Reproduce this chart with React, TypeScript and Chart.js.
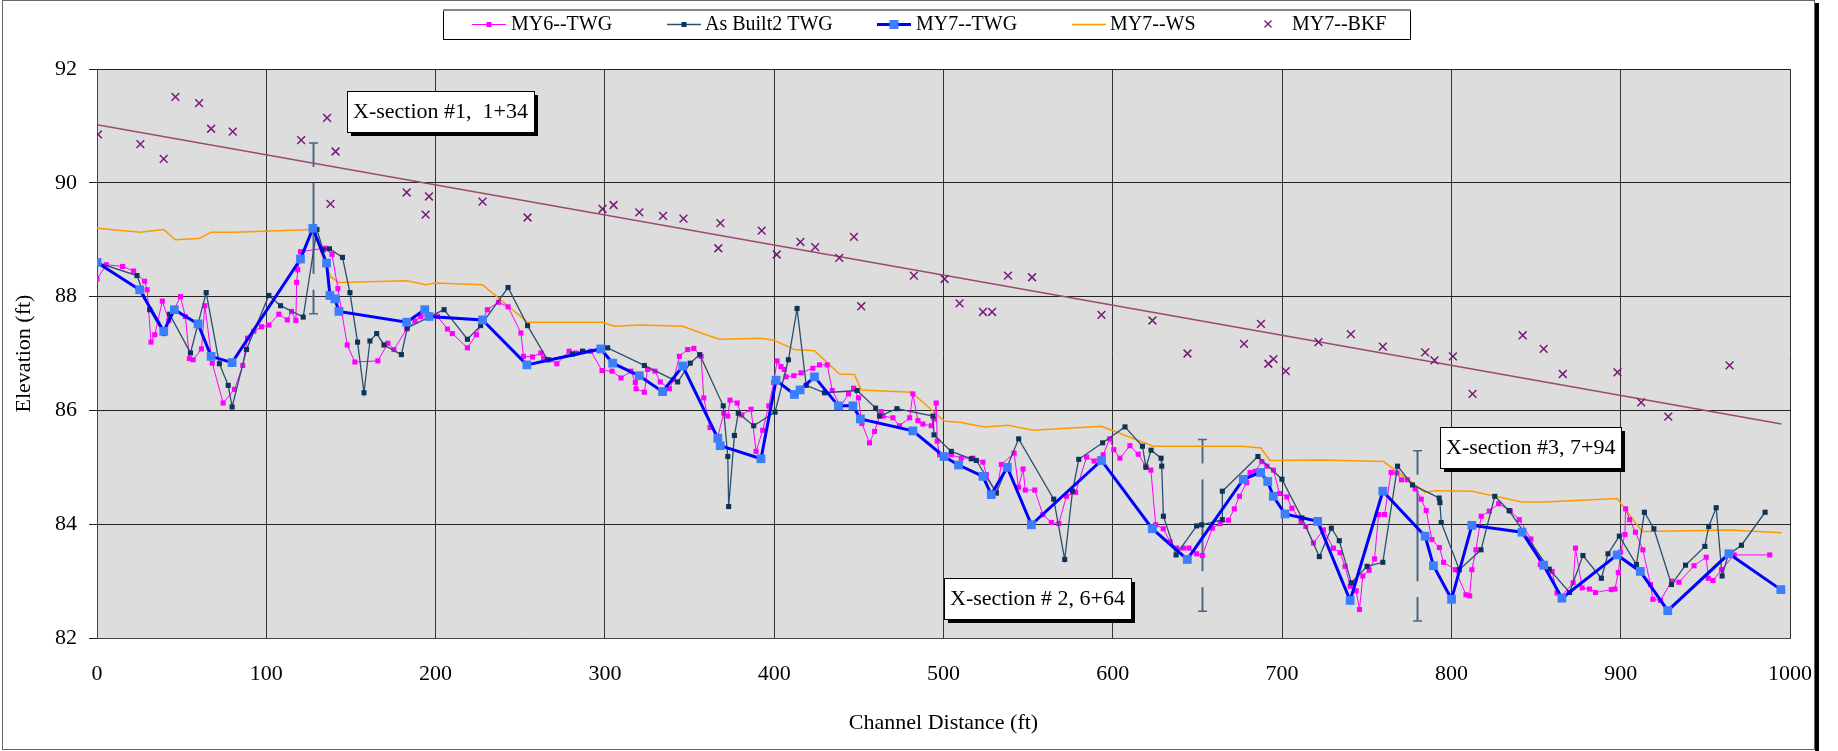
import { useEffect, useRef } from "react";
import { Chart, registerables } from "chart.js";

Chart.register(...registerables);

const FONT = "'Liberation Serif', 'Times New Roman', Times, serif";

// ---------- axes ----------
const xTickValues = [0, 100, 200, 300, 400, 500, 600, 700, 800, 900, 1000];
const yTickValues = [82, 84, 86, 88, 90, 92];

// ---------- MY6--TWG ----------
const my6Dist = [
  0, 5.5, 15.1, 21.6, 28.1, 29.6, 31.9, 34.1, 38.6, 42.4, 49.3, 52.2, 54.6, 56.8, 61.7, 63.7, 68.1, 74.5, 81.2, 86.1,
  88.9, 92.6, 97.2, 101.5, 107.4, 112.4, 114.9, 117.5, 117.9, 118.6, 120.2, 134.5, 138.8, 142.3, 147.8, 152.3, 165.9,
  171.8, 175.4, 182.9, 187.8, 191.2, 196.1, 201.1, 207.0, 209.9, 218.8, 224.1, 230.6, 237.1, 242.8, 250.4, 251.9,
  257.2, 262.2, 263.8, 267.1, 271.6, 278.9, 282.9, 286.8, 291.7, 298.3, 304.2, 309.5, 315.4, 318.0, 318.4, 323.3,
  325.2, 329.6, 332.7, 338.1, 340.6, 344.0, 348.9, 352.5, 356.8, 358.4, 362.1, 366.7, 370.2, 372.6, 373.9, 378.1,
  380.8, 386.3, 389.3, 393.2, 396.8, 399.7, 401.7, 404.0, 406.0, 407.0, 411.6, 415.9, 422.8, 426.8, 431.3, 434.3,
  439.2, 443.9, 446.9, 449.8, 451.8, 456.3, 459.3, 463.2, 464.2, 470.1, 474.0, 480.0, 481.9, 484.9, 487.8, 492.8,
  494.4, 495.7, 496.3, 497.7, 504.6, 510.5, 517.4, 523.3, 525.3, 531.2, 534.2, 541.7, 544.3, 547.0, 548.3, 553.9,
  558.7, 563.7, 568.1, 572.6, 578.0, 584.5, 589.0, 594.3, 598.2, 600.6, 604.2, 610.1, 615.0, 619.4, 622.5, 625.3,
  629.8, 633.8, 637.7, 641.7, 645.0, 649.5, 652.9, 658.8, 663.3, 668.3, 671.8, 674.8, 679.1, 681.1, 684.1, 688.0,
  691.0, 694.9, 698.5, 702.8, 705.8, 711.2, 714.0, 718.5, 724.4, 730.3, 734.2, 737.2, 740.2, 743.7, 745.7, 747.7,
  751.4, 754.6, 757.0, 760.5, 764.4, 767.8, 770.5, 774.0, 778.6, 782.2, 785.1, 788.5, 792.9, 795.4, 802.3, 808.6,
  810.8, 812.1, 814.5, 817.6, 822.4, 827.9, 834.8, 840.1, 847.0, 852.5, 859.5, 862.4, 864.8, 871.9, 873.3, 877.2,
  881.6, 885.1, 894.4, 896.6, 898.6, 899.9, 902.5, 902.9, 905.3, 908.7, 913.1, 917.6, 919.0, 923.5, 930.1, 934.4,
  943.3, 950.5, 951.7, 954.5, 959.6, 967.0, 988.0,
];
const my6Elev = [
  88.31, 88.56, 88.53, 88.45, 88.27, 88.12, 87.2, 87.33, 87.92, 87.58, 88.0, 87.65, 86.91, 86.89, 87.08, 87.84, 86.83,
  86.13, 86.37, 86.79, 87.27, 87.39, 87.47, 87.5, 87.69, 87.59, 87.74, 87.58, 88.25, 88.47, 88.79, 88.85, 88.74,
  88.14, 87.15, 86.85, 86.87, 87.18, 87.07, 87.43, 87.57, 87.65, 87.68, 87.65, 87.43, 87.35, 87.1, 87.33, 87.77,
  87.9, 87.82, 87.36, 86.95, 86.94, 87.01, 86.92, 86.89, 86.82, 87.04, 87.01, 87.04, 87.04, 86.7, 86.69, 86.57,
  86.69, 86.49, 86.38, 86.32, 86.72, 86.69, 86.5, 86.38, 86.54, 86.95, 87.07, 87.09, 86.95, 86.22, 85.7, 85.54,
  85.95, 85.9, 86.18, 86.13, 85.92, 86.02, 85.28, 85.65, 86.08, 86.49, 86.87, 86.77, 86.72, 86.59, 86.61, 86.66,
  86.74, 86.8, 86.8, 86.35, 86.07, 86.29, 86.39, 86.22, 85.77, 85.43, 85.63, 85.98, 85.9, 85.87, 85.73, 85.87,
  86.29, 85.82, 85.76, 85.73, 85.85, 86.13, 85.46, 85.22, 85.22, 85.16, 85.16, 85.09, 84.87, 84.55, 85.05, 85.25,
  84.65, 84.97, 84.6, 84.6, 84.17, 84.03, 84.01, 84.49, 84.56, 85.18, 85.11, 85.22, 85.5, 85.31, 85.16, 85.38,
  85.23, 85.02, 84.95, 83.99, 83.92, 83.69, 83.58, 83.58, 83.58, 83.48, 83.45, 83.93, 84.01, 84.07, 84.27, 84.49,
  84.73, 84.91, 84.93, 85.1, 85.02, 84.95, 84.54, 84.48, 84.28, 84.05, 83.96, 83.67, 83.9, 83.58, 83.5, 83.26,
  82.91, 82.83, 82.5, 83.09, 83.19, 83.39, 84.17, 84.17, 84.91, 84.9, 84.78, 84.78, 84.62, 84.44, 84.24, 83.73,
  83.59, 83.33, 83.2, 82.76, 82.74, 83.2, 83.55, 84.14, 84.23, 84.36, 84.23, 84.08, 83.74, 83.29, 83.17, 82.79,
  82.73, 82.97, 83.58, 82.88, 82.86, 82.8, 82.85, 82.86, 83.15, 83.51, 83.82, 84.27, 84.08, 83.86, 83.55, 82.94,
  82.68, 82.66, 83.0, 82.98, 83.27, 83.42, 83.05, 83.01, 83.2, 83.46, 83.46,
];

// ---------- As Built2 TWG ----------
const asBuiltDist = [
  0, 23.6, 31.1, 39.4, 42.9, 55.2, 64.5, 72.3, 77.5, 79.8, 88.3, 101.5, 108.4, 121.8, 129.9, 133.5, 137.3, 145.0,
  149.4, 153.9, 157.7, 161.2, 165.2, 169.5, 179.8, 183.3, 205.0, 218.8, 226.6, 242.8, 254.3, 266.1, 280.9, 286.8,
  301.6, 323.3, 343.0, 350.4, 356.0, 369.9, 372.6, 373.1, 376.5, 378.8, 387.9, 400.5, 408.4, 413.5, 418.9, 429.7,
  449.0, 459.9, 462.2, 472.5, 493.8, 494.4, 504.6, 516.4, 519.4, 531.2, 544.4, 565.1, 571.6, 576.2, 579.9, 594.0,
  607.2, 617.5, 619.6, 622.6, 628.5, 628.9, 629.9, 637.4, 649.5, 652.5, 664.7, 664.7, 685.7, 699.9, 711.7, 722.0,
  729.1, 733.8, 740.9, 750.2, 759.5, 768.2, 777.0, 792.8, 793.2, 794.0, 804.7, 817.5, 825.6, 834.1, 857.8, 869.8,
  877.7, 888.6, 892.5, 899.2, 909.3, 914.0, 919.6, 930.0, 938.3, 949.7, 952.0, 956.4, 959.9, 963.5, 971.3, 985.3,
];
const asBuiltElev = [
  88.6, 88.37, 87.77, 87.35, 87.69, 87.01, 88.07, 86.82, 86.44, 86.06, 87.07, 88.02, 87.84, 87.64, 89.18, 88.82,
  88.84, 88.69, 88.07, 87.2, 86.31, 87.22, 87.35, 87.15, 86.98, 87.45, 87.77, 87.25, 87.49, 88.16, 87.49, 86.89,
  86.99, 87.04, 87.1, 86.79, 86.5, 86.83, 86.98, 86.08, 85.19, 84.31, 85.56, 85.95, 85.73, 85.97, 86.89, 87.79,
  86.44, 86.31, 86.35, 86.04, 85.9, 86.03, 85.9, 85.57, 85.28, 85.15, 85.12, 84.55, 85.5, 84.44, 83.38, 84.58,
  85.14, 85.43, 85.71, 85.37, 85.0, 85.3, 85.16, 85.02, 84.14, 83.46, 83.97, 83.99, 84.08, 84.58, 85.19, 84.79,
  84.11, 83.43, 83.93, 83.71, 82.97, 83.26, 83.33, 85.02, 84.69, 84.46, 84.38, 84.03, 83.2, 83.55, 84.49, 84.24,
  83.21, 82.8, 83.45, 83.05, 83.48, 83.79, 83.29, 84.21, 83.92, 82.94, 83.28, 83.61, 83.96, 84.29, 83.09, 83.46,
  83.63, 84.21,
];

// ---------- MY7--TWG ----------
const my7Dist = [
  0, 25.2, 39.4, 45.7, 59.7, 67.4, 79.8, 120.2, 127.5, 135.6, 137.6, 140.5, 142.9, 182.9, 193.6, 196.1, 227.7, 253.9,
  297.6, 304.6, 320.3, 334.1, 346.0, 366.7, 368.1, 392.2, 401.1, 411.9, 415.3, 423.8, 437.9, 446.5, 450.9, 481.9,
  500.3, 508.9, 523.3, 528.2, 537.7, 551.9, 593.3, 623.3, 644.0, 677.1, 687.3, 691.5, 694.8, 701.7, 721.0, 740.2,
  759.5, 784.5, 789.4, 800.1, 812.1, 841.7, 854.5, 865.3, 897.9, 911.6, 927.8, 963.9, 994.6,
];
const my7Elev = [
  88.6, 88.12, 87.39, 87.77, 87.52, 86.95, 86.84, 88.66, 89.2, 88.59, 88.02, 87.96, 87.74, 87.55, 87.77, 87.65, 87.59,
  86.8, 87.08, 86.83, 86.61, 86.33, 86.78, 85.51, 85.38, 85.15, 86.53, 86.28, 86.36, 86.59, 86.08, 86.08, 85.85,
  85.64, 85.19, 85.04, 84.84, 84.52, 85.0, 83.99, 85.12, 83.92, 83.38, 84.79, 84.91, 84.75, 84.49, 84.18, 84.05,
  82.66, 84.58, 83.79, 83.27, 82.68, 83.98, 83.86, 83.28, 82.7, 83.46, 83.17, 82.48, 83.48, 82.85,
];

// ---------- MY7--WS ----------
const wsDist = [
  0, 25.6, 39.4, 46.3, 60.1, 67.4, 80.8, 127.3, 137.9, 142.9, 183.3, 194.1, 200.0, 227.7, 254.3, 298.6, 305.5, 320.3,
  345.9, 356.8, 367.6, 392.2, 400.0, 411.9, 423.8, 438.6, 447.4, 451.4, 481.0, 500.7, 509.5, 524.3, 538.1, 552.9,
  593.3, 623.9, 676.2, 687.5, 692.8, 723.4, 759.9, 784.5, 790.4, 812.1, 841.7, 855.5, 897.9, 912.7, 948.2, 964.9,
  995.0,
];
const wsElev = [
  89.2, 89.13, 89.18, 89.0, 89.02, 89.13, 89.13, 89.18, 88.35, 88.25, 88.28, 88.21, 88.24, 88.21, 87.55, 87.55, 87.48,
  87.5, 87.48, 87.36, 87.25, 87.27, 87.23, 87.07, 87.05, 86.64, 86.63, 86.36, 86.32, 85.81, 85.79, 85.71, 85.74,
  85.65, 85.72, 85.37, 85.37, 85.34, 85.12, 85.13, 85.1, 84.56, 84.59, 84.58, 84.39, 84.39, 84.45, 83.87, 83.89,
  83.9, 83.85,
];

// ---------- MY7--BKF ----------
const bkfDist = [
  0.6, 25.6, 39.4, 46.3, 60.3, 67.4, 80.2, 120.6, 135.9, 140.9, 137.9, 182.9, 196.1, 194.1, 227.7, 254.3, 298.6, 305.1,
  320.3, 334.3, 346.4, 368.2, 367.0, 392.6, 401.5, 415.5, 424.2, 438.4, 447.1, 451.4, 482.5, 500.6, 509.5, 523.3,
  528.7, 538.1, 552.3, 593.3, 623.4, 644.1, 677.5, 687.5, 691.9, 694.9, 702.2, 721.5, 740.6, 759.5, 784.5, 790.0,
  800.9, 812.5, 842.1, 854.5, 865.8, 898.1, 912.1, 928.1, 964.3,
];
const bkfElev = [
  90.85, 90.68, 90.42, 91.51, 91.4, 90.95, 90.9, 90.75, 91.14, 90.55, 89.63, 89.83, 89.76, 89.44, 89.67, 89.39, 89.54,
  89.61, 89.48, 89.42, 89.37, 89.29, 88.85, 89.16, 88.74, 88.96, 88.87, 88.68, 89.05, 87.83, 88.37, 88.31, 87.88,
  87.73, 87.73, 88.37, 88.34, 87.68, 87.58, 87.0, 87.17, 87.52, 86.82, 86.9, 86.69, 87.2, 87.34, 87.12, 87.02, 86.88,
  86.95, 86.29, 87.32, 87.08, 86.64, 86.67, 86.14, 85.89, 86.79,
];

// ---------- BKF trend line (end points) ----------
const trendDist = [0, 995];
const trendElev = [91.02, 85.76];

// ---------- cross-section markers ----------
const xsecDist = [127.7, 652.5, 779.6];
const xsecHigh = [90.7, 85.49, 85.29];
const xsecLow = [87.7, 82.47, 82.3];

const noteTexts = ["X-section #1,  1+34", "X-section # 2, 6+64", "X-section #3, 7+94"];
const noteDist = [147.8, 500.0, 793.0];
const noteElev = [91.62, 83.06, 85.7];

const legendLabels = ["MY6--TWG", "As Built2 TWG", "MY7--TWG", "MY7--WS", "MY7--BKF"];

const toPoints = (xs: number[], ys: number[]) => xs.map((x, i) => ({ x, y: ys[i] }));

const decorPlugin = {
  id: "decor",
  beforeDraw(chart: any) {
    const { ctx, chartArea } = chart;
    ctx.save();
    ctx.fillStyle = "#ffffff";
    ctx.fillRect(0, 0, chart.width, chart.height);
    ctx.fillStyle = "#dddddd";
    ctx.fillRect(chartArea.left, chartArea.top, chartArea.right - chartArea.left, chartArea.bottom - chartArea.top);
    ctx.restore();
  },
  beforeDatasetsDraw(chart: any) {
    const { ctx } = chart;
    const xs = chart.scales.x;
    const ys = chart.scales.y;
    ctx.save();
    ctx.strokeStyle = "#4a6785";
    xsecDist.forEach((d, i) => {
      const px = Math.round(xs.getPixelForValue(d)) + 0.5;
      const pt = ys.getPixelForValue(xsecHigh[i]);
      const pb = ys.getPixelForValue(xsecLow[i]);
      const L = pb - pt;
      const segs = [
        [0, 0.14],
        [0.233, 0.767],
        [0.86, 1],
      ];
      ctx.lineWidth = 2;
      segs.forEach(([a, b]) => {
        ctx.beginPath();
        ctx.moveTo(px, pt + a * L);
        ctx.lineTo(px, pt + b * L);
        ctx.stroke();
      });
      ctx.lineWidth = 1.5;
      ctx.beginPath();
      ctx.moveTo(px - 4.5, pt);
      ctx.lineTo(px + 4.5, pt);
      ctx.moveTo(px - 4.5, pb);
      ctx.lineTo(px + 4.5, pb);
      ctx.stroke();
    });
    ctx.restore();
  },
  afterDatasetsDraw(chart: any) {
    const { ctx } = chart;
    const xs = chart.scales.x;
    const ys = chart.scales.y;
    ctx.save();
    ctx.font = `22px ${FONT}`;
    ctx.textBaseline = "middle";
    ctx.textAlign = "left";
    noteTexts.forEach((t, i) => {
      const x = Math.round(xs.getPixelForValue(noteDist[i]));
      const y = Math.round(ys.getPixelForValue(noteElev[i]));
      const w = Math.round(ctx.measureText(t).width + 12);
      const h = 41;
      ctx.fillStyle = "#000";
      ctx.fillRect(x + 4, y + 4, w, h);
      ctx.fillStyle = "#fff";
      ctx.fillRect(x, y, w, h);
      ctx.strokeStyle = "#000";
      ctx.lineWidth = 1;
      ctx.strokeRect(x + 0.5, y + 0.5, w, h);
      ctx.fillStyle = "#000";
      ctx.fillText(t, x + 6, y + h / 2 + 1);
    });
    ctx.restore();
  },
  afterDraw(chart: any) {
    const { ctx } = chart;
    ctx.save();
    // outer frame
    ctx.strokeStyle = "#666";
    ctx.lineWidth = 1;
    ctx.strokeRect(2.5, 0.5, 1812, 749);
    ctx.fillStyle = "#000";
    ctx.fillRect(1815, 3, 4, 748);

    // legend
    const lx = 443, ly = 9, lw = 967, lh = 30;
    ctx.fillStyle = "#fff";
    ctx.fillRect(lx, ly, lw, lh);
    ctx.strokeStyle = "#000";
    ctx.lineWidth = 1;
    ctx.strokeRect(lx + 0.5, ly + 0.5, lw, lh);
    ctx.fillStyle = "#888";
    ctx.fillRect(lx, ly, lw + 1, 2);

    const cy = 24;
    const symCenters = [489, 684, 894, 1089, 1268];
    const textStarts = [511, 705, 916, 1110, 1292];
    const ds = chart.data.datasets;
    ctx.font = `20px ${FONT}`;
    ctx.textBaseline = "middle";
    ctx.textAlign = "left";
    legendLabels.forEach((lab, i) => {
      const sx = symCenters[i];
      const d = ds[i];
      if (i < 4) {
        ctx.strokeStyle = d.borderColor;
        ctx.lineWidth = d.borderWidth;
        ctx.beginPath();
        ctx.moveTo(sx - 17, cy + 0.5);
        ctx.lineTo(sx + 17, cy + 0.5);
        ctx.stroke();
      }
      if (i < 3) {
        const s = i === 2 ? 9 : 5;
        ctx.fillStyle = d.pointBackgroundColor;
        ctx.fillRect(sx - s / 2, cy - s / 2 + 0.5, s, s);
      }
      if (i === 4) {
        ctx.strokeStyle = d.pointBorderColor;
        ctx.lineWidth = 1.3;
        ctx.beginPath();
        ctx.moveTo(sx - 3.5, cy - 3.5);
        ctx.lineTo(sx + 3.5, cy + 3.5);
        ctx.moveTo(sx + 3.5, cy - 3.5);
        ctx.lineTo(sx - 3.5, cy + 3.5);
        ctx.stroke();
      }
      ctx.fillStyle = "#000";
      ctx.fillText(lab, textStarts[i], cy + 1);
    });
    ctx.restore();
  },
};

export default function App() {
  const canvasRef = useRef<HTMLCanvasElement | null>(null);

  useEffect(() => {
    if (!canvasRef.current) return;
    Chart.defaults.font.family = FONT;
    const chart = new Chart(canvasRef.current, {
      type: "scatter",
      data: {
        datasets: [
          {
            label: legendLabels[0],
            data: toPoints(my6Dist, my6Elev),
            showLine: true,
            borderColor: "#ff00ff",
            borderWidth: 1,
            pointStyle: "rect",
            pointRadius: 3.6,
            pointBackgroundColor: "#ff00ff",
            pointBorderWidth: 0,
            order: 3,
          },
          {
            label: legendLabels[1],
            data: toPoints(asBuiltDist, asBuiltElev),
            showLine: true,
            borderColor: "#2b4f6e",
            borderWidth: 1.3,
            pointStyle: "rect",
            pointRadius: 3.6,
            pointBackgroundColor: "#0c3358",
            pointBorderWidth: 0,
            order: 2,
          },
          {
            label: legendLabels[2],
            data: toPoints(my7Dist, my7Elev),
            showLine: true,
            borderColor: "#0000ff",
            borderWidth: 3,
            pointStyle: "rect",
            pointRadius: 6.2,
            pointBackgroundColor: "#3d7eff",
            pointBorderWidth: 0,
            order: 1,
          },
          {
            label: legendLabels[3],
            data: toPoints(wsDist, wsElev),
            showLine: true,
            borderColor: "#ff9900",
            borderWidth: 1.5,
            pointRadius: 0,
            order: 5,
          },
          {
            label: legendLabels[4],
            data: toPoints(bkfDist, bkfElev),
            showLine: false,
            pointStyle: "crossRot",
            pointRadius: 5.5,
            pointBorderColor: "#7a1a7a",
            pointBackgroundColor: "#7a1a7a",
            pointBorderWidth: 1.5,
            order: 0,
          },
          {
            label: "BKF trend",
            data: toPoints(trendDist, trendElev),
            showLine: true,
            borderColor: "#9c4a6e",
            borderWidth: 1.5,
            pointRadius: 0,
            order: 6,
          },
        ],
      },
      options: {
        animation: false,
        responsive: true,
        maintainAspectRatio: false,
        layout: { padding: { top: 69, right: 48, left: 0, bottom: 0 } },
        plugins: {
          legend: { display: false },
          tooltip: { enabled: false },
        },
        scales: {
          x: {
            type: "linear",
            min: 0,
            max: 1000,
            afterBuildTicks: (s: any) => {
              s.ticks = xTickValues.map((v) => ({ value: v }));
            },
            afterFit: (s: any) => {
              s.height = 113;
            },
            ticks: {
              color: "#000",
              font: { size: 22 },
              padding: 23,
              autoSkip: false,
              maxRotation: 0,
              callback: (v: any) => String(v),
            },
            grid: { color: "#333", drawTicks: false },
            border: { color: "#444" },
            title: {
              display: true,
              text: "Channel Distance (ft)",
              color: "#000",
              font: { size: 22 },
              padding: { top: 0, bottom: 15 },
            },
          },
          y: {
            type: "linear",
            min: 82,
            max: 92,
            afterBuildTicks: (s: any) => {
              s.ticks = yTickValues.map((v) => ({ value: v }));
            },
            afterFit: (s: any) => {
              s.width = 97;
            },
            ticks: { color: "#000", font: { size: 22 }, padding: 12, autoSkip: false, callback: (v: any) => String(v) },
            grid: { color: "#222", drawTicks: true, tickLength: 8, tickColor: "#222" },
            border: { color: "#444" },
            title: {
              display: true,
              text: "Elevation (ft)",
              color: "#000",
              font: { size: 22 },
              padding: { top: 11, bottom: 0 },
            },
          },
        },
      },
      plugins: [decorPlugin],
    });
    return () => chart.destroy();
  }, []);

  return (
    <div style={{ position: "absolute", left: 0, top: 0, width: "1838px", height: "751px", background: "#fff" }}>
      <canvas ref={canvasRef} />
    </div>
  );
}
